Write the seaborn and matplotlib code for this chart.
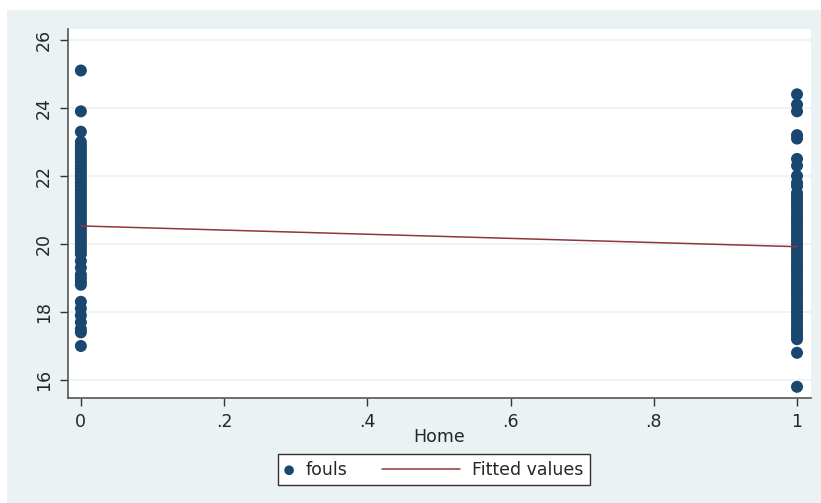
import numpy as np
import pandas as pd
import matplotlib
matplotlib.use('Agg')
import matplotlib.pyplot as plt
import seaborn as sns
from matplotlib.legend_handler import HandlerLine2D

# data
home0_fouls = [25.1, 23.9, 23.3, 23.0, 22.9, 22.8, 22.7, 22.6, 22.5, 22.4, 22.3, 22.2,
               22.1, 22.0, 21.9, 21.8, 21.7, 21.6, 21.5, 21.4, 21.3, 21.2, 21.1, 21.0,
               20.9, 20.8, 20.7, 20.6, 20.5, 20.4, 20.3, 20.2, 20.1, 20.0, 19.9, 19.8,
               19.7, 19.5, 19.3, 19.1, 19.0, 18.9, 18.8, 18.3, 18.1, 17.9, 17.7, 17.5,
               17.4, 17.0]
home1_fouls = [24.4, 24.1, 23.9, 23.2, 23.1, 22.5, 22.3, 22.0, 21.8, 21.7, 21.5, 21.4,
               21.3, 21.2, 21.1, 21.0, 20.9, 20.8, 20.7, 20.6, 20.5, 20.4, 20.3, 20.2,
               20.1, 20.0, 19.9, 19.8, 19.7, 19.6, 19.5, 19.4, 19.3, 19.2, 19.1, 19.0,
               18.9, 18.8, 18.7, 18.6, 18.5, 18.4, 18.3, 18.2, 18.1, 18.0, 17.9, 17.8,
               17.7, 17.6, 17.5, 17.4, 17.3, 17.2, 16.8, 15.8]
fit_home = [0, 1]
fit_values = [20.53, 19.92]
x_ticks = [0, 0.2, 0.4, 0.6, 0.8, 1]
x_ticklabels = ['0', '.2', '.4', '.6', '.8', '1']
y_ticks = [16, 18, 20, 22, 24, 26]

df = pd.DataFrame({
    'Home': [0] * len(home0_fouls) + [1] * len(home1_fouls),
    'fouls': home0_fouls + home1_fouls,
})
fit = pd.DataFrame({'Home': fit_home, 'Fitted values': fit_values})

sns.set_style('white')
plt.rcParams['font.family'] = ['DejaVu Sans']
fs = 12.5

bg = '#eaf2f3'
fig = plt.figure(figsize=(8.21, 5.03), dpi=100)
fig.patch.set_facecolor('white')
# stata-like light panel around the plot
fig.patches.append(plt.Rectangle((7 / 821, 0), 1, 1 - 10 / 503, transform=fig.transFigure,
                                 facecolor=bg, edgecolor='none', zorder=-10))

ax = fig.add_axes([0.0828, 0.2087, 0.9878 - 0.0828, 0.9423 - 0.2087])
ax.set_facecolor('white')

sns.scatterplot(data=df, x='Home', y='fouls', ax=ax, color='#1a476f', s=75,
                edgecolor='none', label='fouls', zorder=3)
sns.lineplot(data=fit, x='Home', y='Fitted values', ax=ax, color='#90353b',
             linewidth=1.1, label='Fitted values', zorder=4)

ax.set_xlim(-0.018, 1.0195)
ax.set_ylim(15.47, 26.32)
ax.set_xticks(x_ticks)
ax.set_xticklabels(x_ticklabels, fontsize=fs)
ax.set_yticks(y_ticks)
ax.set_yticklabels([str(v) for v in y_ticks], fontsize=fs, rotation=90, va='center')
ax.tick_params(axis='both', direction='out', length=6, width=1, color='#333333', pad=5)
ax.tick_params(axis='x', bottom=True)
ax.tick_params(axis='y', left=True)
ax.grid(axis='y', color=bg, linewidth=1.2)
ax.set_axisbelow(True)
for side in ['top', 'right']:
    ax.spines[side].set_visible(False)
for side in ['left', 'bottom']:
    ax.spines[side].set_color('#555555')
    ax.spines[side].set_linewidth(1.2)
ax.set_xlabel('Home', fontsize=fs, labelpad=-2.5)
ax.set_ylabel('')


# stata draws the line key longer than the marker key
class LongLine(HandlerLine2D):
    def get_xdata(self, legend, xdescent, ydescent, width, height, fontsize):
        return ([-xdescent - 4.0 * fontsize, -xdescent + width],
                [-xdescent + 0.5 * width])


handles, labels = ax.get_legend_handles_labels()
ax.get_legend().remove()
leg = fig.legend(handles, labels, loc='center', bbox_to_anchor=(0.529, 0.066), ncol=2,
                 fontsize=fs, frameon=True, fancybox=False, edgecolor='#333333',
                 framealpha=1, columnspacing=6.0, handlelength=0.5, handletextpad=0.7,
                 borderpad=0.38, markerscale=0.8,
                 handler_map={handles[1]: LongLine()})
leg.get_frame().set_linewidth(1.0)

fig.savefig('out.png', dpi=100)
